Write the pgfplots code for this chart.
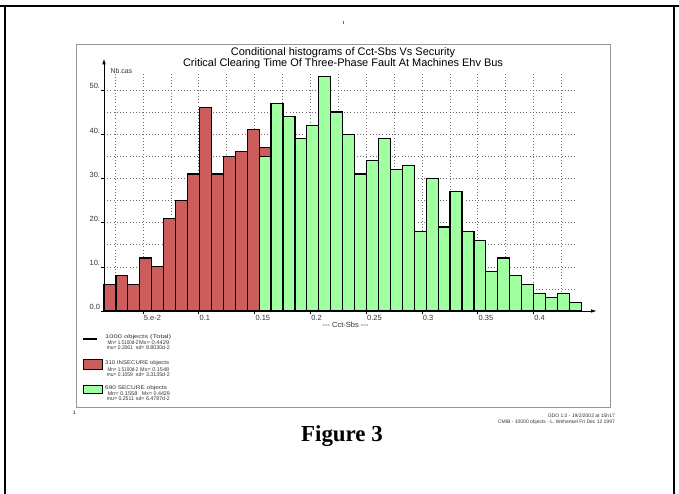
\documentclass[border=0pt]{standalone}
\usepackage{fontspec}
\setmainfont{Liberation Sans}
\newfontfamily\serifbf{Liberation Serif}
\usepackage{graphicx}
\usepackage{pgfplots}
\pgfplotsset{compat=1.18}
\usetikzlibrary{arrows.meta}

\definecolor{insecure}{RGB}{205,92,92}
\definecolor{secure}{RGB}{160,255,160}
\definecolor{gridgray}{RGB}{110,110,110}
\definecolor{txtgray}{RGB}{50,50,50}
\definecolor{framegray}{RGB}{150,150,150}

\newcommand{\fs}[1]{\fontsize{#1}{#1}\selectfont}
% small legend text squeezed to a given width
\newcommand{\legtxt}[2]{\resizebox{#1bp}{\height}{\fs{5.4}#2}}

\begin{document}
\begin{tikzpicture}[x=1bp,y=1bp]
\useasboundingbox (0,0) rectangle (679,494);
\coordinate (origin) at (104,183);

% page frame
\draw[line width=2.5bp] (0,488) -- (679,488);
\draw[line width=2.5bp] (5,0) -- (5,488);
\draw[line width=2.5bp] (674,0) -- (674,488);
\draw[gridgray, line width=0.6bp] (343,473) -- (343,470);

% plot frame
\draw[framegray, line width=0.8bp] (76,87) rectangle (610,450);

% titles
\node[font=\fs{11}] at (343,441.8) {Conditional histograms of Cct-Sbs Vs Security};
\node[font=\fs{11}] at (343,430.8) {Critical Clearing Time Of Three-Phase Fault At Machines Ehv Bus};

\begin{axis}[
  at={(origin)}, anchor=south west,
  scale only axis, width=473bp, height=238.7bp,
  xmin=0.0151, xmax=0.439, ymin=0, ymax=54,
  axis lines=left,
  axis line style={line width=0.9bp, black, -{Latex[length=6bp,width=3.5bp]}},
  x axis line style={shorten >=-20bp},
  y axis line style={shorten >=-14bp},
  xtick={0.05,0.1,0.15,0.2,0.25,0.3,0.35,0.4},
  xticklabels={5.e-2,0.1,0.15,0.2,0.25,0.3,0.35,0.4},
  minor xtick={0.025,0.075,0.125,0.175,0.225,0.275,0.325,0.375,0.425},
  ytick={0,10,20,30,40,50},
  yticklabels={0.0,10.,20.,30.,40.,50.},
  minor ytick={5,15,25,35,45},
  grid=both,
  major grid style={gridgray, line width=0.5bp, dash pattern=on 0.6bp off 2.6bp},
  minor grid style={gridgray, line width=0.5bp, dash pattern=on 0.6bp off 2.6bp},
  tick align=outside, major tick length=3bp, minor tick length=0pt,
  tick style={black, line width=0.5bp},
  ticklabel style={font=\fs{7.5}, text=txtgray, inner sep=0.8bp},
  xticklabel style={anchor=north west},
  yticklabel style={anchor=south east},
  clip=false,
]
% INSECURE cases (40 bins of width 0.010695 from 0.0151)
\addplot[ybar interval, fill=insecure, draw=black, line width=1.2bp] coordinates {
  (0.0151,6) (0.025795,8) (0.03649,6) (0.047185,12) (0.05788,10)
  (0.068575,21) (0.07927,25) (0.089965,31) (0.10066,46) (0.111355,31)
  (0.12205,35) (0.132745,36) (0.14344,41) (0.154135,37) (0.16483,37)
};
% SECURE cases
\addplot[ybar interval, fill=secure, draw=black, line width=1.2bp] coordinates {
  (0.154135,35) (0.16483,47) (0.175525,44) (0.18622,39) (0.196915,42)
  (0.20761,53) (0.218305,45) (0.229,40) (0.239695,31) (0.25039,34)
  (0.261085,39) (0.27178,32) (0.282475,33) (0.29317,18) (0.303865,30)
  (0.31456,19) (0.325255,27) (0.33595,18) (0.346645,16) (0.35734,9)
  (0.368035,12) (0.37873,8) (0.389425,6) (0.40012,4) (0.410815,3)
  (0.42151,4) (0.432205,2) (0.4429,2)
};
\end{axis}

% axis names
\node[font=\fs{7}, text=txtgray, anchor=west] at (107,423) {Nb.cas};
\node[font=\fs{7.5}, text=txtgray] at (345.5,169) {-{}-{}- Cct-Sbs -{}-{}-};

% legend
\draw[line width=1.3bp] (83,155) -- (97,155);
\node[anchor=west, inner sep=0, text=txtgray] at (105,156.7) {\legtxt{66}{1000 objects (Total)}};
\node[anchor=west, inner sep=0, text=txtgray] at (107.3,151.7) {\legtxt{31}{Mn= 1.5100d-2}};
\node[anchor=west, inner sep=0, text=txtgray] at (139,151.7) {\legtxt{30}{Mx= 0.4429}};
\node[anchor=west, inner sep=0, text=txtgray] at (106.7,146.7) {\legtxt{26}{mu= 0.2061}};
\node[anchor=west, inner sep=0, text=txtgray] at (135.7,146.7) {\legtxt{34}{sd= 8.8030d-2}};

\draw[fill=insecure, line width=1bp] (83,124.3) rectangle (102.7,134.3);
\node[anchor=west, inner sep=0, text=txtgray] at (105,131) {\legtxt{64}{310 INSECURE objects}};
\node[anchor=west, inner sep=0, text=txtgray] at (107.3,124.7) {\legtxt{31}{Mn= 1.5100d-2}};
\node[anchor=west, inner sep=0, text=txtgray] at (140,124.7) {\legtxt{29}{Mx= 0.1548}};
\node[anchor=west, inner sep=0, text=txtgray] at (106.7,119.3) {\legtxt{26}{mu= 0.1059}};
\node[anchor=west, inner sep=0, text=txtgray] at (135.7,119.3) {\legtxt{34}{sd= 3.3135d-2}};

\draw[fill=secure, line width=1bp] (83,100) rectangle (102.7,108.7);
\node[anchor=west, inner sep=0, text=txtgray] at (105,106) {\legtxt{62}{690 SECURE objects}};
\node[anchor=west, inner sep=0, text=txtgray] at (107.3,100.3) {\legtxt{30}{Mn= 0.1558}};
\node[anchor=west, inner sep=0, text=txtgray] at (141.7,100.3) {\legtxt{28}{Mx= 0.4429}};
\node[anchor=west, inner sep=0, text=txtgray] at (106.7,95) {\legtxt{27}{mu= 0.2511}};
\node[anchor=west, inner sep=0, text=txtgray] at (135.7,95) {\legtxt{34}{sd= 6.4787d-2}};

% footer
\node[anchor=west, inner sep=0, font=\fs{5}] at (72.7,81) {1};
\node[anchor=east, inner sep=0, font=\fs{5}, text=txtgray] at (615,78) {GDO 1.0 - 19/2/2002 at 15h17};
\node[anchor=east, inner sep=0, font=\fs{5}, text=txtgray] at (615,72) {CMIB - 10000 objects - L. Wehenkel Fri Dec 12 1997};

% caption
\node[font={\serifbf\bfseries\fs{23}}] at (342,58) {Figure 3};
\end{tikzpicture}
\end{document}
